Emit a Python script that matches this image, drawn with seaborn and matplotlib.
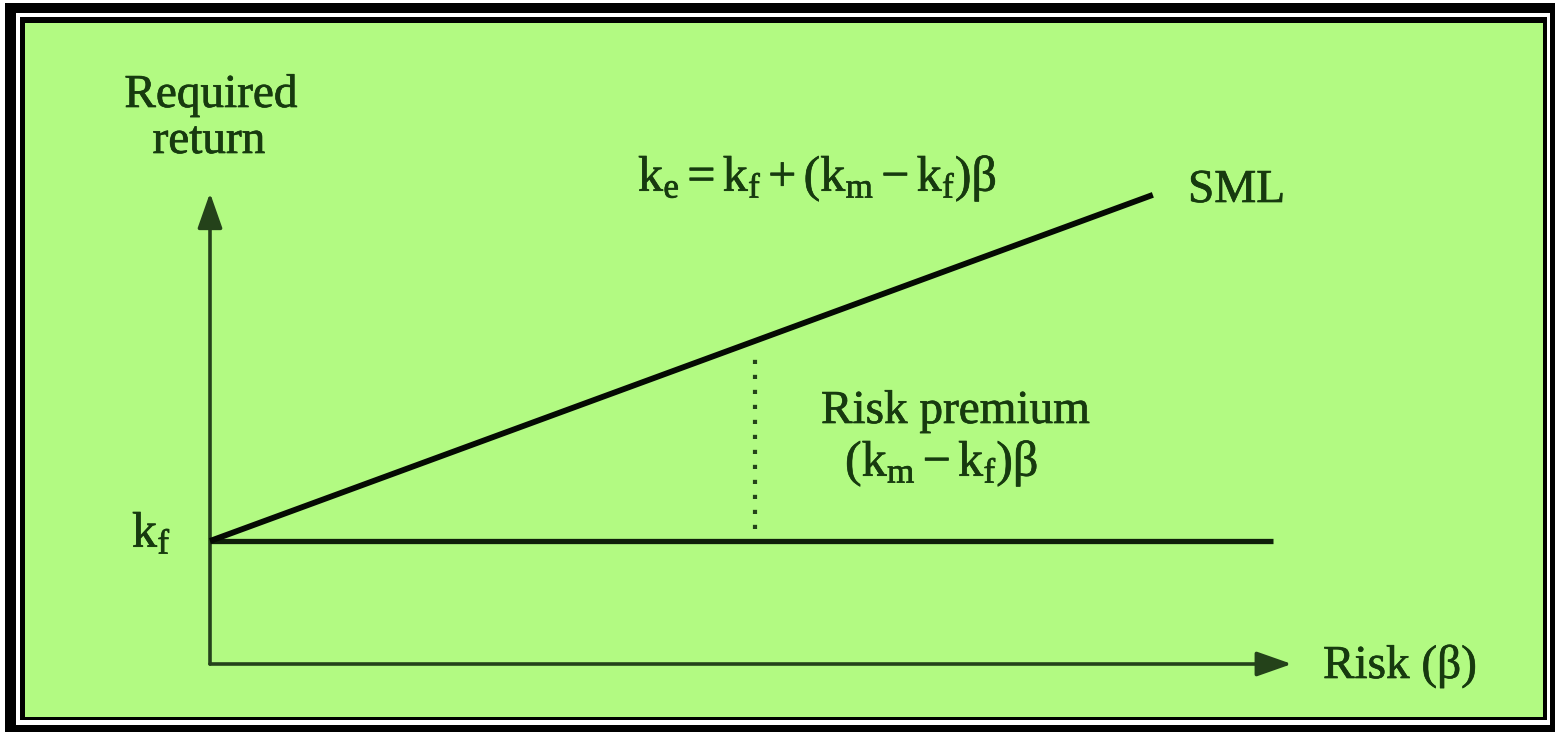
"""
Security market line (SML) diagram: required return vs. risk (beta).
"""

import matplotlib
matplotlib.use('Agg')
import matplotlib.pyplot as plt
import matplotlib.patheffects as pe
from matplotlib.patches import Rectangle
import pandas as pd
import seaborn as sns

# SML: required return rises with beta
sml_beta = [0.0, 1.73]
sml_return = [5.0, 19.07]

# risk-free level
rf_beta = [0.0, 1.95]
rf_return = [5.0, 5.0]

# risk premium marker at beta = 1
premium_beta = [1.0, 1.0]
premium_return = [5.5, 12.45]

# axis extents (arrow tips)
X_AXIS_END = 1.985
Y_AXIS_END = 19.15

BG = '#b2fa82'
TEXT = '#173a0f'
AXIS = '#24421a'

W, H = 1556, 735


def fx(x):
    return x / W


def fy(y):
    return 1 - y / H


def main():
    sns.set_theme(style='white')
    plt.rcParams.update({
        'font.family': ['Liberation Serif', 'DejaVu Serif'],
        'mathtext.fontset': 'custom',
        'mathtext.rm': 'Liberation Serif',
        'mathtext.it': 'Liberation Serif:italic',
        'mathtext.bf': 'Liberation Serif:bold',
    })

    fig = plt.figure(figsize=(W / 100, H / 100), dpi=100, facecolor='white')
    ax = fig.add_axes([0, 0, 1, 1])
    ax.set_xlim(-210 / 545, (W - 210) / 545)
    ax.set_ylim(-(H - 664) / 24.6, 664 / 24.6)
    ax.axis('off')
    ax.patch.set_visible(False)

    # Double frame and green panel
    frame = [
        (5, 3, 1555, 732, 'black'),
        (16, 13, 1550, 725, 'white'),
        (20, 17, 1547, 720, 'black'),
        (25, 23, 1543, 717, BG),
    ]
    for x0, y0, x1, y1, c in frame:
        ax.add_patch(Rectangle((fx(x0), fy(y1)), fx(x1) - fx(x0), fy(y0) - fy(y1),
                               transform=ax.transAxes, facecolor=c,
                               edgecolor='none', zorder=0))

    # Axes with arrows
    arrow = dict(arrowstyle='-|>,head_length=1.08,head_width=0.38',
                 mutation_scale=20, lw=2.6, color=AXIS,
                 shrinkA=0, shrinkB=0)
    ax.annotate('', xy=(X_AXIS_END, 0), xytext=(0, 0), arrowprops=arrow, zorder=3)
    ax.annotate('', xy=(0, Y_AXIS_END), xytext=(0, 0), arrowprops=arrow, zorder=3)

    sml = pd.DataFrame({'beta': sml_beta, 'ret': sml_return})
    rf = pd.DataFrame({'beta': rf_beta, 'ret': rf_return})
    prem = pd.DataFrame({'beta': premium_beta, 'ret': premium_return})

    sns.lineplot(data=rf, x='beta', y='ret', color='#0f1f0a', lw=3.8,
                 estimator=None, ax=ax, zorder=4, solid_capstyle='butt')
    sns.lineplot(data=sml, x='beta', y='ret', color='#050a03', lw=4.2,
                 estimator=None, ax=ax, zorder=5, solid_capstyle='butt')
    sns.lineplot(data=prem, x='beta', y='ret', color=AXIS, lw=3.0,
                 linestyle=(0, (1, 2.6)), estimator=None, sort=False,
                 ax=ax, zorder=4)
    ax.set_xlabel('')
    ax.set_ylabel('')

    # slight stroke to mimic the heavier print of the original
    heavy = [pe.withStroke(linewidth=0.5, foreground=TEXT)]
    fs = 34
    tk = dict(transform=ax.transAxes, color=TEXT, fontsize=fs, va='baseline',
              path_effects=heavy)
    ax.text(fx(211), fy(107), 'Required', ha='center', **tk)
    ax.text(fx(209), fy(153), 'return', ha='center', **tk)
    ax.text(fx(638), fy(191), r'$\mathrm{k_e = k_f + (k_m - k_f)}$β',
            ha='left', **{**tk, 'fontsize': 36})
    ax.text(fx(1188), fy(202), 'SML', ha='left', **tk)
    ax.text(fx(821), fy(423), 'Risk premium', ha='left', **tk)
    ax.text(fx(845), fy(476), r'$\mathrm{(k_m - k_f)}$β', ha='left',
            **{**tk, 'fontsize': 36})
    ax.text(fx(132), fy(547), r'$\mathrm{k_f}$', ha='left',
            **{**tk, 'fontsize': 36})
    ax.text(fx(1323), fy(678), 'Risk (β)', ha='left', **tk)

    fig.savefig('out.png', dpi=100, facecolor='white')
    plt.close(fig)


if __name__ == '__main__':
    main()
